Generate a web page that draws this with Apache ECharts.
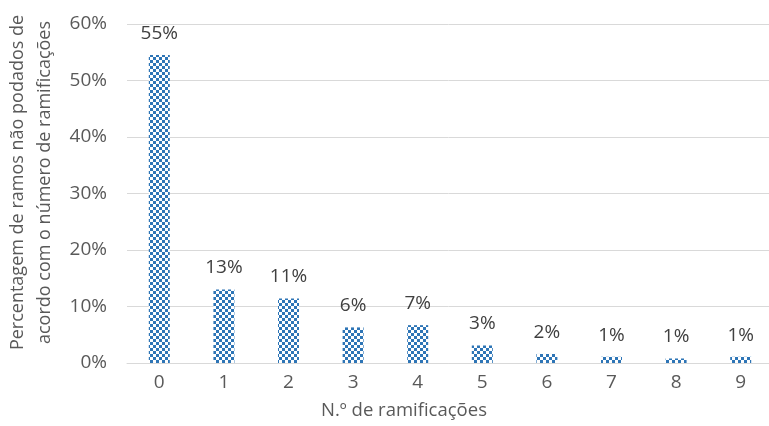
<!DOCTYPE html>
<html><head><meta charset="utf-8">
<script src="https://cdn.jsdelivr.net/npm/echarts@6/dist/echarts.min.js"></script>
<style>html,body{margin:0;padding:0;background:#fff}#c{width:769px;height:426px}</style>
</head><body><div id="c"></div>
<script>
var categories = ['0','1','2','3','4','5','6','7','8','9'];
var values = [54.5, 13.0, 11.4, 6.3, 6.7, 3.1, 1.6, 1.1, 0.8, 1.1];
var yTicks = [0, 10, 20, 30, 40, 50, 60];
var yName = 'Percentagem de ramos não podados de\nacordo com o número de ramificações';
var xName = 'N.º de ramificações';

function makePattern() {
  var cv = document.createElement('canvas');
  cv.width = 6; cv.height = 6;
  var ctx = cv.getContext('2d');
  ctx.fillStyle = '#ffffff';
  ctx.fillRect(0, 0, 6, 6);
  ctx.fillStyle = '#2e75b6';
  ctx.fillRect(0, 0, 3, 3);
  ctx.fillRect(3, 3, 3, 3);
  return cv;
}

var chart = echarts.init(document.getElementById('c'), null, {renderer: 'canvas'});
var font = 'Open Sans';
chart.setOption({
  animation: false,
  grid: {left: 127, right: -4, top: 24, bottom: 63, containLabel: false, outerBoundsMode: 'none'},
  xAxis: {
    type: 'category',
    data: categories,
    name: xName,
    nameLocation: 'middle',
    nameGap: 38,
    nameTextStyle: {color: '#595959', fontSize: 18.5, fontFamily: font, padding: [0, 92, 0, 0]},
    axisLine: {lineStyle: {color: '#d9d9d9', width: 1}},
    axisTick: {show: false},
    axisLabel: {color: '#595959', fontSize: 19, fontFamily: font, margin: 10}
  },
  yAxis: {
    type: 'value',
    min: yTicks[0],
    max: yTicks[yTicks.length - 1],
    interval: 10,
    name: yName,
    nameLocation: 'middle',
    nameRotate: 90,
    nameGap: 66,
    nameTextStyle: {color: '#595959', fontSize: 18, fontFamily: font, lineHeight: 27, align: 'center', padding: [0, 0, 0, 22]},
    axisLine: {show: false},
    axisTick: {show: false},
    splitLine: {lineStyle: {color: '#d9d9d9', width: 1}},
    axisLabel: {color: '#595959', fontSize: 19, fontFamily: font, margin: 20, formatter: function (v) { return v + '%'; }}
  },
  series: [{
    type: 'bar',
    data: values,
    barWidth: 21,
    itemStyle: {color: {image: makePattern(), repeat: 'repeat'}},
    label: {
      show: true,
      position: 'top',
      distance: 12,
      color: '#404040',
      fontSize: 19,
      fontFamily: font,
      formatter: function (p) { return Math.round(p.value) + '%'; }
    }
  }]
});
</script></body></html>
